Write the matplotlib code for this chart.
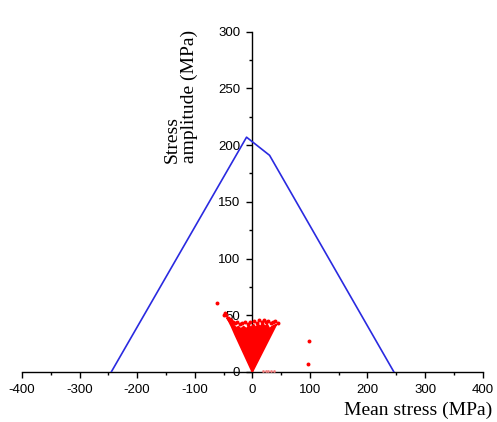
import matplotlib
matplotlib.use("Agg")
import matplotlib.pyplot as plt
from matplotlib.ticker import MultipleLocator

plt.rcParams["axes.unicode_minus"] = False

# Goodman-type limit line
line_x = [-245, -10, 30, 246]
line_y = [0, 207, 191, 0]

# Dense cloud outline (region filled solid by overlapping points)
cloud_x = [0, -20, -30, -36, -41, -44, -40, -36, -32, -28, -24, -20, -15, -10, -6, -2,
           2, 6, 10, 14, 18, 22, 26, 30, 34, 38, 42, 30, 20, 0]
cloud_y = [0, 22, 33, 40, 45, 48, 45, 43, 41, 39, 40, 38, 40, 38, 41, 39,
           42, 39, 42, 40, 43, 40, 42, 38, 40, 41, 42, 30, 20, 0]

# Individual scattered points around the cloud edge and outliers
pts_x = [-62, -49, -47, -45, -43, -40, -37, -34, -30, -26, -22, -18, -13, -8, -4, 3, 8,
         12, 16, 20, 24, 28, 32, 36, 40, 44, 99, 97]
pts_y = [61, 50, 52, 50, 48, 47, 46, 44, 43, 44, 42, 43, 44, 42, 44, 45, 43,
         46, 44, 46, 44, 45, 43, 44, 45, 43, 27, 7]

# faint near-axis points
faint_x = [18, 23, 28, 33, 38]
faint_y = [1, 1, 1, 1, 1]

xticks = [-400, -300, -200, -100, 0, 100, 200, 300, 400]
yticks = [0, 50, 100, 150, 200, 250, 300]

fig = plt.figure(figsize=(4.97, 4.22), dpi=100)
ax = fig.add_axes([0.0443, 0.1185, 0.9267, 0.8064])

ax.plot(line_x, line_y, color="#2a2ae0", lw=1.2, zorder=2)
ax.fill(cloud_x, cloud_y, color="#ff0000", lw=1.2, ec="#ff0000", zorder=3)
ax.scatter(pts_x, pts_y, s=8, color="#ff0000", lw=0, zorder=3)
ax.scatter(faint_x, faint_y, s=4, color="#f08080", lw=0, zorder=3)

ax.set_xlim(-400, 400)
ax.set_ylim(0, 300)
ax.spines["left"].set_position(("data", 0))
ax.spines["right"].set_visible(False)
ax.spines["top"].set_visible(False)
for sp in ("left", "bottom"):
    ax.spines[sp].set_linewidth(1.0)
    ax.spines[sp].set_zorder(1)

ax.set_xticks(xticks)
ax.set_yticks(yticks)
ax.xaxis.set_minor_locator(MultipleLocator(50))
ax.yaxis.set_minor_locator(MultipleLocator(25))
ax.tick_params(axis="both", which="major", direction="out", length=4.3, width=1.0,
               labelsize=9.5, pad=4.5)
ax.tick_params(axis="both", which="minor", direction="out", length=2.5, width=1.0)
for lab in ax.get_xticklabels() + ax.get_yticklabels():
    lab.set_family("Liberation Sans")
ax.patch.set_alpha(0)

fig.text(492 / 497, (422 - 410) / 422, "Mean stress (MPa)", family="Liberation Serif",
         fontsize=14, ha="right", va="center")
fig.text(181 / 497, (422 - 163) / 422, "Stress\namplitude (MPa)", family="Liberation Serif",
         fontsize=14, rotation=90, ha="center", va="bottom", multialignment="left",
         linespacing=0.95)

fig.savefig("out.png", dpi=100)
